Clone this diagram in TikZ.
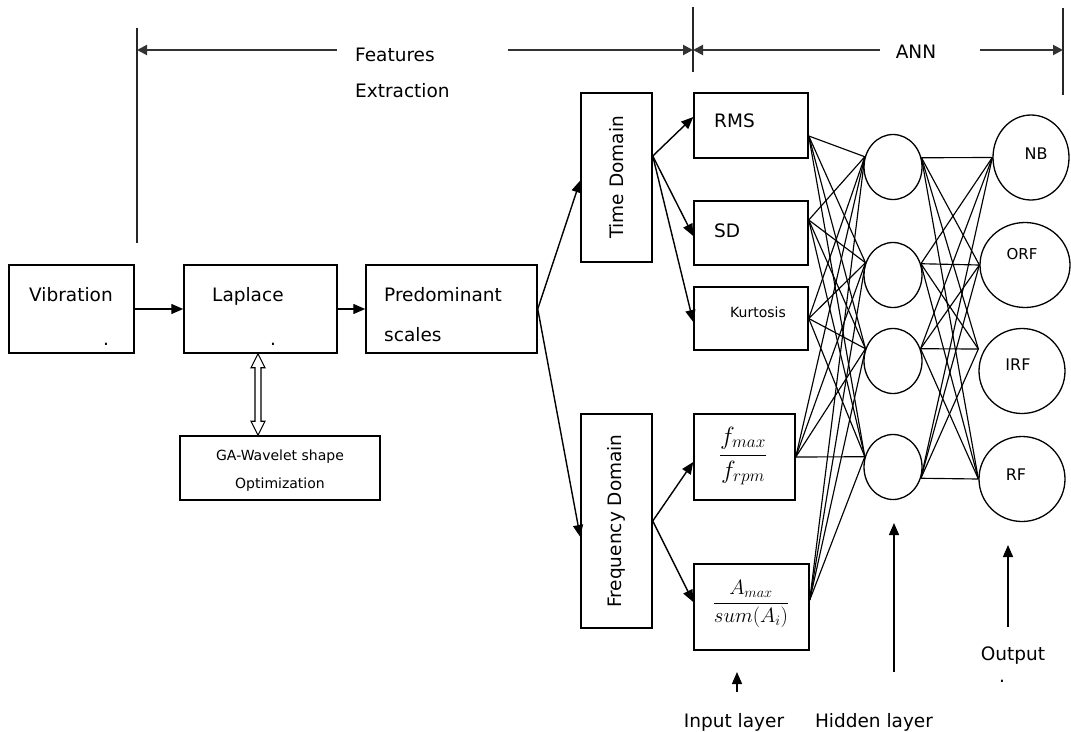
\documentclass[tikz,border=0pt]{standalone}
\usepackage{fontspec}
\setmainfont{DejaVu Sans}
\usetikzlibrary{arrows.meta,shapes.geometric,calc}
\newcommand\fsz[1]{\fontsize{#1}{#1}\selectfont}
\begin{document}
\begin{tikzpicture}[x=1pt,y=-1pt,
  box/.style={draw, line width=1.5pt, inner sep=0pt},
  circ/.style={draw, ellipse, line width=1.3pt, inner sep=0pt},
  lab/.style={inner sep=0pt, font=\fsz{18.5}},
  smalllab/.style={inner sep=0pt, font=\fsz{14}},
  outlab/.style={inner sep=0pt, font=\fsz{16}},
  conn/.style={line width=1.4pt, -{Triangle[length=12pt,width=10pt]}},
  dim/.style={line width=2pt, black!80, -{Triangle[length=10pt,width=10pt]}},
  guide/.style={line width=1.4pt, black!85},
  net/.style={line width=1.15pt},
]
\useasboundingbox (0,0) rectangle (1071,731);

% ---------- top dimension lines ----------
\coordinate (vLa) at (137,28);  \coordinate (vLb) at (137,243);
\coordinate (vMa) at (693,7);   \coordinate (vMb) at (693,72);
\coordinate (vRa) at (1063,8);  \coordinate (vRb) at (1063,95);
\draw[guide] (vLa) -- (vLb);
\draw[guide] (vMa) -- (vMb);
\draw[guide] (vRa) -- (vRb);
\coordinate (fL) at (337,50); \coordinate (fLt) at (137,50);
\coordinate (fR) at (508,50); \coordinate (fRt) at (693,50);
\coordinate (aL) at (880,50); \coordinate (aLt) at (693,50);
\coordinate (aR) at (980,50); \coordinate (aRt) at (1063,50);
\draw[dim] (fL) -- (fLt);
\draw[dim] (fR) -- (fRt);
\draw[dim] (aL) -- (aLt);
\draw[dim] (aR) -- (aRt);
\node[lab, anchor=base west] (feat) at (355,61) {Features};
\node[lab, anchor=base west] (extr) at (355,97) {Extraction};
\node[lab, anchor=base] (ann) at (916,58) {ANN};

% ---------- left chain ----------
\node[box, minimum width=125pt, minimum height=88pt] (vib) at (71.5,309) {};
\node[box, minimum width=153pt, minimum height=88pt] (lap) at (260.5,309) {};
\node[box, minimum width=171pt, minimum height=88pt] (pre) at (451.5,309) {};
\node[box, minimum width=200pt, minimum height=64pt] (ga) at (280,468) {};
\node[lab, anchor=base west] (tvib) at (29,301) {Vibration};
\node[lab, anchor=base] (dvib) at (106,345) {.};
\node[lab, anchor=base west] (tlap) at (212,301) {Laplace};
\node[lab, anchor=base] (dlap) at (273,345) {.};
\node[lab, anchor=base west] (tpre) at (384,301) {Predominant};
\node[lab, anchor=base west] (tsca) at (384,341) {scales};
\node[smalllab, anchor=base] (tga1) at (280,460) {GA-Wavelet shape};
\node[smalllab, anchor=base] (tga2) at (280,488) {Optimization};

\draw[conn] (vib.east) -- (lap.west);
\draw[conn] (lap.east) -- (pre.west);

% hollow double arrow Laplace <-> GA
\coordinate (dA) at (lap.south -| 258,0);
\coordinate (dB) at (ga.north -| 258,0);
\draw[line width=1.1pt, fill=white]
  (dA) -- ($(dA)+(7,14)$) -- ($(dA)+(3,14)$) -- ($(dB)+(3,-14)$) -- ($(dB)+(7,-14)$)
  -- (dB) -- ($(dB)+(-7,-14)$) -- ($(dB)+(-3,-14)$) -- ($(dA)+(-3,14)$) -- ($(dA)+(-7,14)$) -- cycle;

% ---------- domain boxes ----------
\node[box, minimum width=71pt, minimum height=169pt] (td) at (616.5,177.5) {};
\node[box, minimum width=71pt, minimum height=214pt] (fd) at (616.5,521) {};
\node[lab, rotate=90] (ttd) at (td.center) {Time Domain};
\node[lab, rotate=90] (tfd) at (fd.center) {Frequency Domain};

\draw[conn] (pre.east) -- ([yshift=-3pt]td.west);
\draw[conn] (pre.east) -- ([yshift=-16pt]fd.west);

% ---------- input layer ----------
\node[box, minimum width=114pt, minimum height=65pt] (rms) at (751,125.5) {};
\node[box, minimum width=114pt, minimum height=64pt] (sd)  at (751,233) {};
\node[box, minimum width=114pt, minimum height=63pt] (kur) at (751,318.5) {};
\node[box, minimum width=101pt, minimum height=86pt] (fr)  at (744.5,457) {};
\node[box, minimum width=115pt, minimum height=86pt] (ar)  at (751.5,607) {};
\node[lab, anchor=base west] (trms) at (714,127) {RMS};
\node[lab, anchor=base west] (tsd) at (714,237) {SD};
\node[smalllab, anchor=base west] (tkur) at (730,317) {Kurtosis};
\node[inner sep=0pt, font=\fsz{25}] (tfr) at (743,456) {$\displaystyle\frac{f_{max}}{f_{rpm}}$};
\node[inner sep=0pt, font=\fsz{22}] (tar) at (751,604) {$\displaystyle\frac{A_{max}}{sum(A_i)}$};

\draw[conn] ([yshift=21.5pt]td.east) -- ([yshift=8.5pt]rms.west);
\draw[conn] ([yshift=21.5pt]td.east) -- ([yshift=-3pt]sd.west);
\draw[conn] ([yshift=21.5pt]td.east) -- ([yshift=-3.5pt]kur.west);
\draw[conn] (fd.east) -- ([yshift=-5pt]fr.west);
\draw[conn] (fd.east) -- ([yshift=5pt]ar.west);

% ---------- hidden layer ----------
\node[circ, minimum width=58pt, minimum height=65pt] (h1) at (893,167) {};
\node[circ, minimum width=58pt, minimum height=65pt] (h2) at (893,275) {};
\node[circ, minimum width=58pt, minimum height=65pt] (h3) at (893,361) {};
\node[circ, minimum width=58pt, minimum height=65pt] (h4) at (893,467) {};

% ---------- output layer ----------
\node[circ, minimum width=76pt, minimum height=85pt] (nb)  at (1031,157.5) {};
\node[circ, minimum width=90pt, minimum height=85pt] (orf) at (1025,265) {};
\node[circ, minimum width=86pt, minimum height=85pt] (irf) at (1022,371) {};
\node[circ, minimum width=86pt, minimum height=85pt] (rf)  at (1022,479) {};
\node[outlab, anchor=base] (tnb) at (1036,159) {NB};
\node[outlab, font=\fsz{15}, anchor=base] (torf) at (1022,259) {ORF};
\node[outlab, anchor=base] (tirf) at (1018,370) {IRF};
\node[outlab, anchor=base] (trf) at (1016,480) {RF};

% connection points
\coordinate (i1) at ([yshift=-10.5pt]rms.east);
\coordinate (i2) at ([yshift=13pt]sd.east);
\coordinate (i3) at (kur.east);
\coordinate (i4) at (fr.east);
\coordinate (i5) at ([yshift=7pt]ar.east);
\coordinate (hi1) at (h1.160);
\coordinate (hi2) at (h2.156);
\coordinate (hi3) at (h3.156);
\coordinate (hi4) at (h4.160);
\coordinate (ho1) at (h1.18);
\coordinate (ho2) at (h2.22);
\coordinate (ho3) at (h3.24);
\coordinate (ho4) at (h4.338);
\coordinate (o1) at (nb.west);
\coordinate (o2) at (orf.west);
\coordinate (o3) at ([yshift=22pt]irf.west);
\coordinate (o4) at (rf.west);

\foreach \a in {i1,i2,i3,i4,i5}
  \foreach \b in {hi1,hi2,hi3,hi4}
    \draw[net] (\a) -- (\b);
\foreach \a in {ho1,ho2,ho3,ho4}
  \foreach \b in {o1,o2,o3,o4}
    \draw[net] (\a) -- (\b);

% ---------- bottom labels ----------
\node[lab, anchor=base] (tin) at (734,727) {Input layer};
\node[lab, anchor=base] (thid) at (874,727) {Hidden layer};
\node[lab, anchor=base] (tout) at (1013,660) {Output};
\node[lab, anchor=base] (dout) at (1002,682) {.};
\coordinate (inA) at (737,692); \coordinate (inB) at (737,672);
\coordinate (hdA) at (894,672); \coordinate (hdB) at (894,523);
\coordinate (otA) at (1008,627); \coordinate (otB) at (1008,545);
\draw[conn] (inA) -- (inB);
\draw[conn] (hdA) -- (hdB);
\draw[conn] (otA) -- (otB);
\end{tikzpicture}
\end{document}
